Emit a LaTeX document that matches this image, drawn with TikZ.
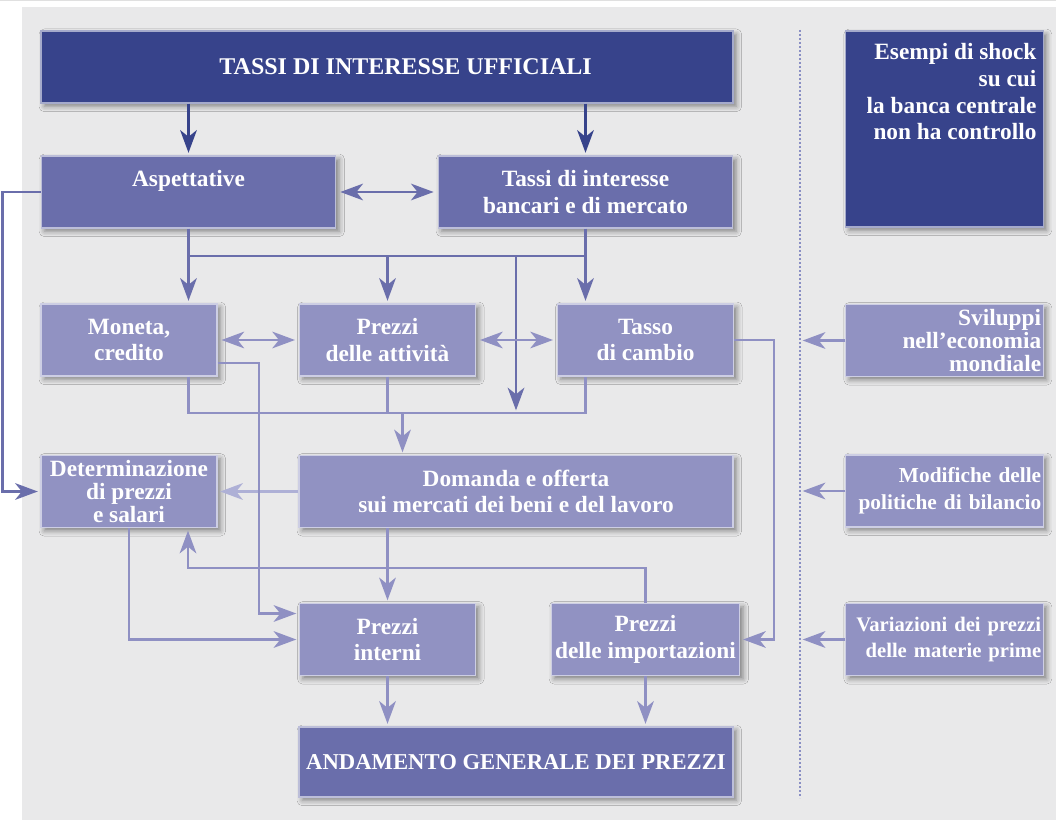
\documentclass[tikz,border=0pt]{standalone}
\usepackage{fontspec}
\setmainfont{Liberation Serif}
\usetikzlibrary{positioning,calc,arrows.meta,shadows.blur}

\definecolor{darkbox}{HTML}{37438B}
\definecolor{midbox}{HTML}{6A6EAB}
\definecolor{lightbox}{HTML}{9192C2}
\definecolor{paleline}{HTML}{AEB0D6}
\definecolor{lowline}{HTML}{8F90C3}
\definecolor{bgpanel}{HTML}{E9E9EA}
\definecolor{sepline}{HTML}{8A8FC4}

\begin{document}
\begin{tikzpicture}[x=0.75pt,y=-0.75pt,
  every node/.style={font=\bfseries\fontsize{17.5}{20}\selectfont,text=white},
  panel/.style={rectangle,fill=#1,draw=white!55!#1,line width=0.8pt,inner sep=3pt,align=center,
    blur shadow={shadow xshift=2.5pt,shadow yshift=-2.5pt,shadow blur radius=4pt,shadow opacity=45}},
  wide/.style={panel=midbox,minimum width=221pt,minimum height=54pt},
  small/.style={panel=lightbox,minimum width=132pt,minimum height=54pt},
  side/.style={panel=lightbox,minimum width=148pt,minimum height=54pt,text width=145pt,inner xsep=1.5pt,align=right},
  tight/.style={inner ysep=1pt,font={\bfseries\fontsize{17.5}{17}\selectfont\lineskiplimit=-10pt}},
  conn/.style={draw=#1,line width=1.9pt},
  arr/.style={conn=#1,->,shorten >=2pt},
  darr/.style={conn=#1,<->,shorten >=3pt,shorten <=3pt},
  >={Stealth[length=17pt,width=12.5pt,inset=5pt]}]

\useasboundingbox (0,0) rectangle (1056,820);
\fill[bgpanel] (22,7) rectangle (1056,820);
\draw[black!12,line width=0.6pt] (0,0.5) -- (1056,0.5);

% left part
\node[panel=darkbox,minimum width=519pt,minimum height=54pt,font=\bfseries\fontsize{18}{20}\selectfont] (uff) at (387,67) {\hspace*{28pt}TASSI DI INTERESSE UFFICIALI};
\node[wide] (asp) at (188.5,192) {Aspettative\\\mbox{}};
\node[wide] (banc) at (585.5,192) {Tassi di interesse\\bancari e di mercato};

\node[small] (mon) at (129,340) {Moneta,\\credito};
\node[small] (att) at (387.5,340) {Prezzi\\delle attività};
\node[small] (camb) at (645.5,340) {Tasso\\di cambio};

\node[small,tight] (det) at (129,491.5) {Determinazione\\di prezzi\\e salari};
\node[panel=lightbox,minimum width=325.5pt,minimum height=54pt] (dom) at (516,491.5) {Domanda e offerta\\sui mercati dei beni e del lavoro};

\node[small] (int) at (387.5,639.5) {Prezzi\\interni};
\node[small] (imp) at (645.5,639.5) {Prezzi\\delle importazioni};

\node[panel=midbox,minimum width=325.5pt,minimum height=52.5pt,font=\bfseries\fontsize{17}{20}\selectfont] (and) at (516,762) {ANDAMENTO GENERALE DEI PREZZI};

% shocks
\coordinate (sepN) at (800,30);
\coordinate (sepS) at (800,798);
\draw[sepline,line width=1.6pt,dash pattern=on 1.6pt off 1.4pt] (sepN) -- (sepS);

\node[panel=darkbox,minimum width=148pt,minimum height=147pt] (shock) at (944.5,129) {};
\node[anchor=north east,align=right,inner sep=0pt] (shocktext) at ($(shock.north east)+(-7,13)$) {Esempi di shock\\su cui\\la banca centrale\\non ha controllo};
\node[side,tight] (svil) at (944.5,340.5) {Sviluppi\\nell’economia\\mondiale};
\node[side,font=\bfseries\fontsize{16}{20}\selectfont] (mod) at (944.5,491) {Modifiche delle\\politiche di bilancio};
\node[side,font=\bfseries\fontsize{15.5}{20}\selectfont] (var) at (944.5,639.5) {Variazioni dei prezzi\\delle materie prime};

% connectors
\coordinate (bus1) at (0,256);
\coordinate (bus2) at (0,413);

\draw[arr=darkbox] (asp.north |- uff.south) -- (asp.north);
\draw[arr=darkbox] (banc.north |- uff.south) -- (banc.north);
\draw[darr=midbox] (asp.east) -- (banc.west);
\draw[arr=midbox] (asp.west) -- ++(-38,0) |- (det.west);

\draw[arr=midbox] (asp.south) -- (asp.south |- mon.north);
\draw[conn=midbox] (asp.south |- bus1) -- (banc.south |- bus1);
\draw[arr=midbox] (att.north |- bus1) -- (att.north);
\draw[arr=midbox] (banc.south) -- (banc.south |- camb.north);
\draw[arr=midbox] (dom.north |- bus1) -- (dom.north |- bus2);

\draw[darr=lowline] (mon.east) -- (att.west);
\draw[darr=lowline] (att.east) -- (camb.west);

\draw[conn=lowline] (asp.south |- mon.south) |- (banc.south |- bus2) -- (banc.south |- camb.south);
\draw[conn=lowline] (att.south) -- (att.south |- bus2);
\draw[arr=lowline] ($(att.south |- bus2)+(15,0)$) -- ($(att.south |- dom.north)+(15,0)$);

\draw[arr=paleline] (dom.west) -- (det.east);
\draw[arr=lowline] ($(mon.east)+(0,23)$) -| ($(int.west)+(-40,-26)$) -- ($(int.west)+(0,-26)$);
\draw[arr=lowline] (det.south) |- (int.west);
\draw[arr=lowline] (dom.south -| int.north) -- (int.north);
\draw[arr=lowline] (imp.north) |- ($(det.south)+(59,40)$) -- ($(det.south)+(59,0)$);
\draw[arr=lowline] (camb.east) -- ++(40,0) |- (imp.east);

\draw[arr=lowline] (int.south) -- (int.south |- and.north);
\draw[arr=lowline] (imp.south) -- (imp.south |- and.north);

\draw[arr=lowline] (svil.west) -- (svil.west -| sepN);
\draw[arr=lowline] (mod.west) -- (mod.west -| sepN);
\draw[arr=lowline] (var.west) -- (var.west -| sepN);
\end{tikzpicture}
\end{document}
